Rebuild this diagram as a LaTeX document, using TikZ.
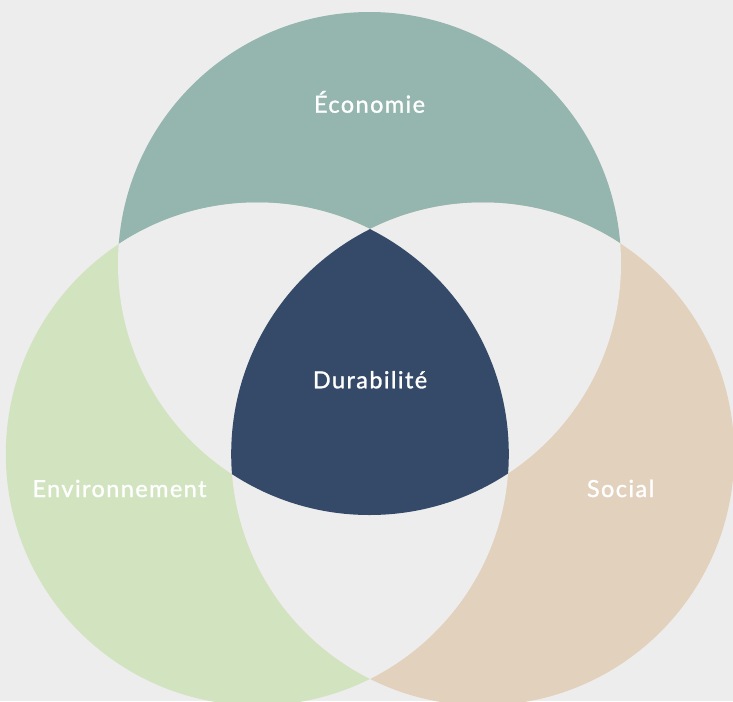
\documentclass[tikz,border=0pt]{standalone}
\usepackage{fontspec}
\setmainfont{Lato}[LetterSpace=6, FakeBold=1.2]
\definecolor{bgc}{HTML}{EDEDED}
\definecolor{ecoc}{HTML}{95B5AF}
\definecolor{envc}{HTML}{D2E4BF}
\definecolor{socc}{HTML}{E2D2BD}
\definecolor{durc}{HTML}{344A68}
\tikzset{
  lbl/.style={text=white, font=\fontsize{23.5}{26}\selectfont, inner sep=0pt, anchor=base}
}
\begin{document}
\begin{tikzpicture}[x=1pt,y=-1pt]
\useasboundingbox (0,0) rectangle (733,701);
\fill[bgc] (0,0) rectangle (733,701);
\def\rad{251.5pt}
\coordinate (T) at (369.5,263.5);
\coordinate (L) at (257.3,454);
\coordinate (R) at (482.7,454);
\fill[ecoc] (T) circle (\rad);
\fill[envc] (L) circle (\rad);
\fill[socc] (R) circle (\rad);
\begin{scope}
  \clip (T) circle (\rad);
  \fill[bgc] (L) circle (\rad);
  \fill[bgc] (R) circle (\rad);
\end{scope}
\begin{scope}
  \clip (L) circle (\rad);
  \fill[bgc] (R) circle (\rad);
\end{scope}
\begin{scope}
  \clip (T) circle (\rad);
  \clip (L) circle (\rad);
  \fill[durc] (R) circle (\rad);
\end{scope}
\node[lbl] (eco) at (369.5,112.7) {Économie};
\node[lbl] (dur) at (370,388.3) {Durabilité};
\node[lbl] (env) at (119.5,497) {Environnement};
\node[lbl] (soc) at (620.5,497) {Social};
\end{tikzpicture}
\end{document}
